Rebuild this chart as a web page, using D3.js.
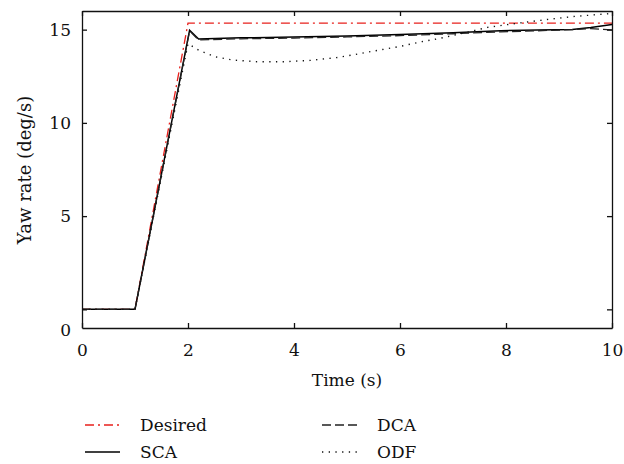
<!DOCTYPE html>
<html>
<head>
<meta charset="utf-8">
<script src="https://cdn.jsdelivr.net/npm/d3@7"></script>
<style>
  body { margin: 0; background: #fff; }
  text { font-family: "DejaVu Serif", serif; fill: #111; }
  .axis path, .axis line { stroke: #111; stroke-width: 1.3; }
  .line { fill: none; }
</style>
</head>
<body>
<script>
  // Values (time in s, yaw rate in deg/s)
  const desiredT = [0, 1, 2, 10];
  const desiredV = [0, 0, 15.35, 15.35];

  const scaT = [0, 1, 2.03, 2.2, 3, 4, 5, 6, 7, 7.9, 8.6, 9.25, 9.6, 10];
  const scaV = [0, 0, 14.97, 14.5, 14.56, 14.6, 14.66, 14.74, 14.84, 14.94, 14.98, 15.01, 15.12, 15.28];

  const dcaT = [0, 1, 2.03, 2.2, 3, 4, 5, 6, 7, 7.9, 8.6, 9.25, 9.6, 10];
  const dcaV = [0, 0, 14.93, 14.45, 14.51, 14.55, 14.61, 14.68, 14.78, 14.88, 14.94, 15.0, 15.06, 14.99];

  const odfT = [0, 1, 2, 2.2, 2.5, 2.85, 3.3, 3.8, 4.3, 4.8, 5.1, 5.5, 6.0, 6.4, 6.75, 7.25, 7.65, 8.1, 8.65, 9.25, 10];
  const odfV = [0, 0, 14.25, 13.9, 13.55, 13.37, 13.28, 13.28, 13.35, 13.5, 13.64, 13.85, 14.1, 14.35, 14.53, 14.85, 15.12, 15.3, 15.5, 15.7, 15.87];

  const xTicks = [0, 2, 4, 6, 8, 10];
  const yTicks = [0, 5, 10, 15];

  const series = [
    { name: 'Desired', t: desiredT, v: desiredV, color: '#e8201c', dash: '9,4,2,4', width: 1.3 },
    { name: 'SCA', t: scaT, v: scaV, color: '#000', dash: null, width: 1.5 },
    { name: 'DCA', t: dcaT, v: dcaV, color: '#222', dash: '9,4', width: 1.3 },
    { name: 'ODF', t: odfT, v: odfV, color: '#111', dash: '1.3,5.4', width: 1.4 },
  ];

  const width = 624;
  const height = 464;
  const margin = { top: 11, right: 12, bottom: 136, left: 82 };
  const innerWidth = width - margin.left - margin.right;
  const innerHeight = height - margin.top - margin.bottom;

  const xScale = d3.scaleLinear().domain([0, 10]).range([0, innerWidth]);
  const yScale = d3.scaleLinear().domain([-1, 16]).range([innerHeight, 0]);

  const svg = d3.select('body')
    .append('svg')
    .attr('width', width)
    .attr('height', height);

  const g = svg.append('g')
    .attr('transform', `translate(${margin.left},${margin.top})`);

  const lineGenerator = d3.line()
    .x((d) => xScale(d[0]))
    .y((d) => yScale(d[1]));

  g.append('g')
    .selectAll('path')
    .data(series)
    .enter()
    .append('path')
    .attr('class', 'line')
    .attr('d', (s) => lineGenerator(s.t.map((t, i) => [t, s.v[i]])))
    .attr('stroke', (s) => s.color)
    .attr('stroke-width', (s) => s.width)
    .attr('stroke-dasharray', (s) => s.dash);

  // Frame with inward ticks on every side
  const fontSize = 17;
  const dropEmpty = (a) => a.selectAll('text').filter(function () { return this.textContent === ''; }).remove();

  g.append('g')
    .attr('class', 'axis')
    .attr('transform', `translate(0,${innerHeight})`)
    .call(d3.axisBottom(xScale).tickValues(xTicks).tickSize(-5).tickPadding(16).tickSizeOuter(0))
    .call((a) => a.selectAll('text').attr('font-size', fontSize).attr('font-family', 'DejaVu Serif'));

  g.append('g')
    .attr('class', 'axis')
    .call(d3.axisTop(xScale).tickValues(xTicks).tickSize(-5).tickFormat('').tickSizeOuter(0))
    .call(dropEmpty);

  g.append('g')
    .attr('class', 'axis')
    .call(d3.axisLeft(yScale).tickValues(yTicks).tickSize(-5).tickPadding(11).tickSizeOuter(0)
      .tickFormat((d) => (d === 0 ? '' : d)))
    .call((a) => a.selectAll('text').attr('font-size', fontSize).attr('font-family', 'DejaVu Serif'))
    .call(dropEmpty);

  g.append('g')
    .attr('class', 'axis')
    .attr('transform', `translate(${innerWidth},0)`)
    .call(d3.axisRight(yScale).tickValues(yTicks).tickSize(-5).tickFormat('').tickSizeOuter(0))
    .call(dropEmpty);

  // the "0" label sits at the bottom corner of the frame
  g.append('text')
    .attr('x', -11)
    .attr('y', yScale(-1) + 3)
    .attr('dy', '0.32em')
    .attr('text-anchor', 'end')
    .attr('font-size', fontSize)
    .text('0');

  g.append('text')
    .attr('x', innerWidth / 2)
    .attr('y', 386 - margin.top)
    .attr('text-anchor', 'middle')
    .attr('font-size', fontSize)
    .text('Time (s)');

  svg.append('text')
    .attr('transform', 'translate(31,170) rotate(-90)')
    .attr('text-anchor', 'middle')
    .attr('font-size', 18)
    .text('Yaw rate (deg/s)');

  // Legend, two columns
  const legendPos = [
    { x: 85, y: 425 },
    { x: 85, y: 452 },
    { x: 322, y: 425 },
    { x: 322, y: 452 },
  ];
  const legendOrder = ['Desired', 'SCA', 'DCA', 'ODF'];

  const legend = svg.append('g')
    .selectAll('g')
    .data(legendOrder.map((name) => series.find((s) => s.name === name)))
    .enter()
    .append('g')
    .attr('transform', (d, i) => `translate(${legendPos[i].x},${legendPos[i].y})`);

  legend.append('line')
    .attr('x1', 0)
    .attr('x2', 35)
    .attr('stroke', (d) => d.color)
    .attr('stroke-width', (d) => d.width)
    .attr('stroke-dasharray', (d) => d.dash);

  legend.append('text')
    .attr('x', 55)
    .attr('dy', '0.36em')
    .attr('font-size', fontSize)
    .text((d) => d.name);
</script>
</body>
</html>
